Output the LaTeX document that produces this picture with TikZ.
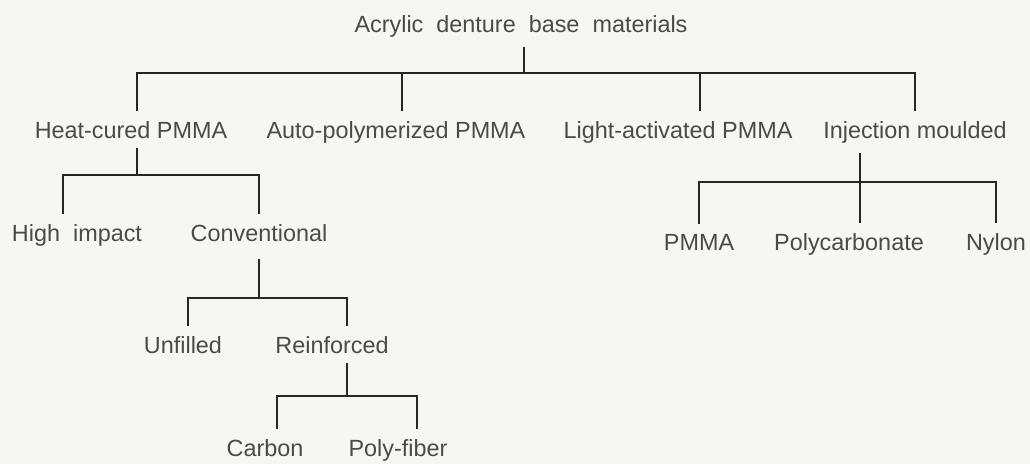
\documentclass[tikz,border=0pt]{standalone}
\usepackage{fontspec}
\setmainfont{Liberation Sans}
\usepackage{xcolor}
\definecolor{ink}{HTML}{4A4A4A}
\definecolor{paper}{HTML}{F6F6F3}
\tikzset{
  lbl/.style={anchor=base,inner sep=0pt,outer xsep=0pt,outer ysep=10pt,text=ink,
    font=\fontsize{23.4}{28}\selectfont},
  tree/.style={line width=1.5pt,black!85}
}

\begin{document}
\begin{tikzpicture}[x=1pt,y=-1pt]
\fill[paper] (0,0) rectangle (1030,464);
\useasboundingbox (0,0) rectangle (1030,464);
% labels
\node[lbl] (root) at (521,32) {Acrylic~~denture~~base~~materials};
\node[lbl] (heat) at (131,138) {Heat-cured PMMA};
\node[lbl] (auto) at (396,138) {Auto-polymerized PMMA};
\node[lbl] (light) at (678,138) {Light-activated PMMA};
\node[lbl] (inj) at (915,138) {Injection moulded};
\node[lbl] (high) at (77,241) {High~~impact};
\node[lbl] (conv) at (259,241) {Conventional};
\node[lbl] (unf) at (183,353) {Unfilled};
\node[lbl] (reinf) at (332,353) {Reinforced};
\node[lbl] (carbon) at (265,456) {Carbon};
\node[lbl] (polyf) at (398,456) {Poly-fiber};
\node[lbl] (pmma) at (699,250) {PMMA};
\node[lbl] (polyc) at (849,250) {Polycarbonate};
\node[lbl] (nylon) at (996,250) {Nylon};
% bar levels
\coordinate (b1) at (0,73);
\coordinate (b2) at (0,175);
\coordinate (b3) at (0,298);
\coordinate (b4) at (0,396);
\coordinate (b5) at (0,182);
% connectors
\draw[tree] ([xshift=3]root.south) -- ([xshift=3]root.south |- b1);
\draw[tree] ([xshift=6]heat.north) |- (inj.north |- b1) -- (inj.north);
\draw[tree] ([xshift=6]auto.north) -- ([xshift=6]auto.north |- b1);
\draw[tree] ([xshift=22]light.north) -- ([xshift=22]light.north |- b1);
\draw[tree] ([xshift=6]heat.south) -- ([xshift=6]heat.south |- b2);
\draw[tree] ([xshift=-14]high.north) |- (conv.north |- b2) -- (conv.north);
\draw[tree] ([yshift=-8]conv.south) -- (conv.south |- b3);
\draw[tree] ([xshift=5]unf.north) |- ([xshift=15]reinf.north |- b3) -- ([xshift=15]reinf.north);
\draw[tree] ([xshift=15]reinf.south) -- ([xshift=15]reinf.south |- b4);
\draw[tree] ([xshift=12]carbon.north) |- ([xshift=19]polyf.north |- b4) -- ([xshift=19]polyf.north);
\draw[tree] ([xshift=-55]inj.south) -- ([xshift=11]polyc.north);
\draw[tree] (pmma.north) |- (nylon.north |- b5) -- (nylon.north);
\end{tikzpicture}
\end{document}
